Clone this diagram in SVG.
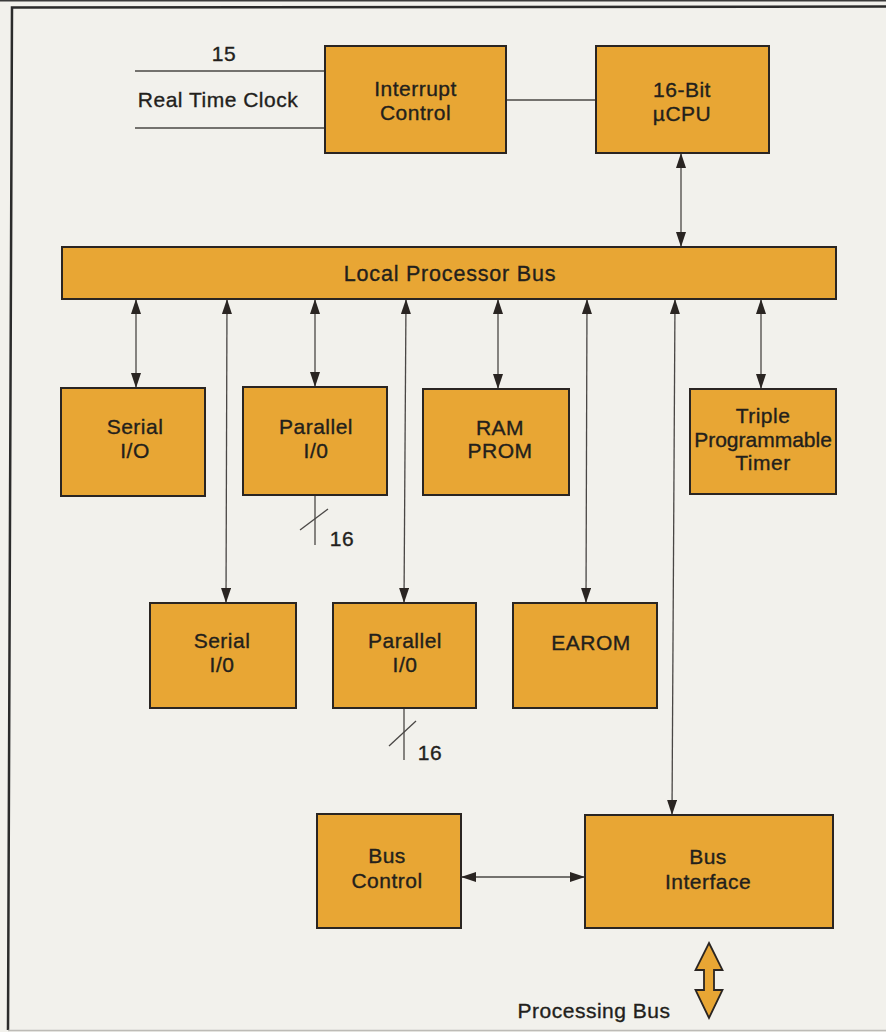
<svg xmlns="http://www.w3.org/2000/svg" width="886" height="1032" viewBox="0 0 886 1032">
<defs>
<style>
.box{fill:#E8A634;stroke:#2a2522;stroke-width:2}
.lbl{font-family:"Liberation Sans",Arial,sans-serif;font-size:21px;letter-spacing:0.5px;fill:#231f1c;stroke:#231f1c;stroke-width:0.35;text-anchor:middle}
.ln{stroke:#4a4745;stroke-width:1.3;fill:none}
.ar{stroke:#4a4745;stroke-width:1.3;fill:none;marker-start:url(#ah);marker-end:url(#ah)}
.frame{stroke:#2b2b2b;stroke-width:2.5;fill:none}
</style>
<marker id="ah" viewBox="0 0 15 10" refX="15" refY="5" markerWidth="15" markerHeight="10" markerUnits="userSpaceOnUse" orient="auto-start-reverse">
<path d="M0,0 L15,5 L0,10 z" fill="#2a2522"/>
</marker>
</defs>
<rect x="0" y="0" width="886" height="1032" fill="#F2F1EC"/>
<line x1="0" y1="0.8" x2="886" y2="0.8" stroke="#3a3a3a" stroke-width="1.6"/>
<path class="frame" d="M886,6.5 L12,7.5 L8,1030"/>
<line x1="8" y1="1030.5" x2="886" y2="1030.5" stroke="#bdbbb6" stroke-width="1.5"/>

<g id="connectors">
<line class="ln" x1="135" y1="71" x2="325" y2="71"/>
<line class="ln" x1="135" y1="128" x2="325" y2="128"/>
<line class="ln" x1="506" y1="100" x2="596" y2="100"/>
<line class="ar" x1="681" y1="153" x2="681" y2="247"/>
<line class="ar" x1="136" y1="299" x2="136" y2="388"/>
<line class="ar" x1="227" y1="299" x2="226" y2="603"/>
<line class="ar" x1="315" y1="299" x2="315" y2="387"/>
<line class="ar" x1="406" y1="299" x2="404" y2="603"/>
<line class="ar" x1="498" y1="299" x2="498" y2="389"/>
<line class="ar" x1="587" y1="299" x2="586" y2="603"/>
<line class="ar" x1="675" y1="299" x2="672" y2="815"/>
<line class="ar" x1="761" y1="299" x2="761" y2="389"/>
<line class="ar" x1="461" y1="877" x2="585" y2="877"/>
<line class="ln" x1="315" y1="495" x2="315" y2="545"/>
<line class="ln" x1="300" y1="530" x2="328" y2="509"/>
<line class="ln" x1="404" y1="708" x2="404" y2="760"/>
<line class="ln" x1="389" y1="746" x2="416" y2="721"/>
<polygon points="709,943 722.5,970 714,970 714,990 722.5,990 709,1018 695.5,990 704,990 704,970 695.5,970" fill="#E8A634" stroke="#2a2522" stroke-width="1.8" stroke-linejoin="miter"/>
</g>

<g id="labels">
<text class="lbl" x="224" y="61">15</text>
<text class="lbl" x="218" y="107">Real Time Clock</text>
<text class="lbl" x="342" y="546">16</text>
<text class="lbl" x="430" y="760">16</text>
<text class="lbl" x="594" y="1018">Processing Bus</text>
</g>

<g id="interrupt-control">
<rect class="box" x="325" y="46" width="181" height="107"/>
<text class="lbl" x="415.5" y="96">Interrupt</text>
<text class="lbl" x="415.5" y="120">Control</text>
</g>
<g id="cpu">
<rect class="box" x="596" y="46" width="173" height="107"/>
<text class="lbl" x="682" y="97">16-Bit</text>
<text class="lbl" x="682" y="121">µCPU</text>
</g>
<g id="local-bus">
<rect class="box" x="62" y="247" width="774" height="52"/>
<text class="lbl" x="450" y="281" style="font-size:21.5px;letter-spacing:0.8px">Local Processor Bus</text>
</g>
<g id="serial-io-1">
<rect class="box" x="61" y="388" width="144" height="108"/>
<text class="lbl" x="135" y="434">Serial</text>
<text class="lbl" x="135" y="458">I/O</text>
</g>
<g id="parallel-io-1">
<rect class="box" x="243" y="387" width="144" height="108"/>
<text class="lbl" x="316" y="434">Parallel</text>
<text class="lbl" x="316" y="458">I/0</text>
</g>
<g id="ram-prom">
<rect class="box" x="423" y="389" width="146" height="106"/>
<text class="lbl" x="500" y="435">RAM</text>
<text class="lbl" x="500" y="458">PROM</text>
</g>
<g id="timer">
<rect class="box" x="690" y="389" width="146" height="105"/>
<text class="lbl" x="763" y="423">Triple</text>
<text class="lbl" x="763" y="447" style="letter-spacing:0px">Programmable</text>
<text class="lbl" x="763" y="470">Timer</text>
</g>
<g id="serial-io-2">
<rect class="box" x="150" y="603" width="146" height="105"/>
<text class="lbl" x="222" y="648">Serial</text>
<text class="lbl" x="222" y="672">I/0</text>
</g>
<g id="parallel-io-2">
<rect class="box" x="333" y="603" width="143" height="105"/>
<text class="lbl" x="405" y="648">Parallel</text>
<text class="lbl" x="405" y="672">I/0</text>
</g>
<g id="earom">
<rect class="box" x="513" y="603" width="144" height="105"/>
<text class="lbl" x="591" y="650">EAROM</text>
</g>
<g id="bus-control">
<rect class="box" x="317" y="814" width="144" height="114"/>
<text class="lbl" x="387" y="863">Bus</text>
<text class="lbl" x="387" y="888">Control</text>
</g>
<g id="bus-interface">
<rect class="box" x="585" y="815" width="248" height="113"/>
<text class="lbl" x="708" y="864">Bus</text>
<text class="lbl" x="708" y="889">Interface</text>
</g>
</svg>
